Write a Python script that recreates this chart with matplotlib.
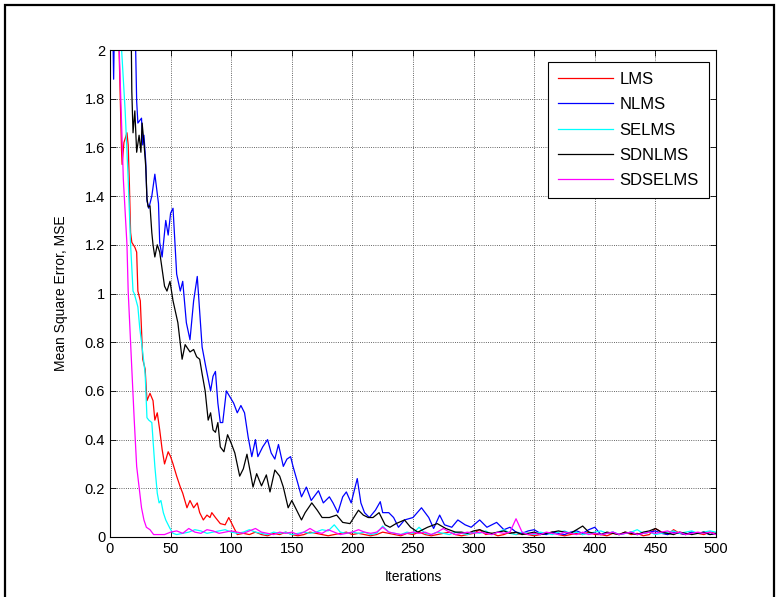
import matplotlib.pyplot as plt
import numpy as np
from matplotlib.patches import Rectangle

# LMS (red)
lms_it = [1, 7, 9.5, 10, 11.5, 14, 15, 16, 17, 18, 20.5, 22, 23, 25, 27, 29, 30.5, 33, 35.5, 37, 39,
          41, 43, 45, 48, 50, 52, 55, 58, 60, 63.5, 66, 69, 72, 74, 77, 80, 82.5, 84, 87, 91, 95, 98,
          102, 105]
lms_mse = [2.5, 2.1, 1.59, 1.53, 1.62, 1.66, 1.61, 1.45, 1.25, 1.21, 1.19, 1.17, 1.01, 0.97, 0.73,
           0.69, 0.56, 0.59, 0.56, 0.48, 0.51, 0.44, 0.36, 0.30, 0.35, 0.33, 0.30, 0.25, 0.205, 0.18,
           0.12, 0.15, 0.12, 0.14, 0.10, 0.07, 0.09, 0.08, 0.10, 0.08, 0.055, 0.05, 0.08, 0.04, 0.01]
lms_tail = [0.015, 0.01, 0.02, 0.01, 0.005, 0.015, 0.01, 0.02, 0.01, 0.005, 0.01, 0.02, 0.015, 0.01,
            0.005, 0.01, 0.015, 0.02, 0.01,
            0.015, 0.01, 0.005, 0.01, 0.02, 0.015, 0.01, 0.005, 0.015, 0.01, 0.02, 0.01, 0.005, 0.01,
            0.015, 0.02, 0.01, 0.005, 0.01, 0.015,
            0.03, 0.01, 0.015, 0.005, 0.01, 0.02, 0.01, 0.015, 0.01, 0.005, 0.01, 0.015, 0.02, 0.01,
            0.005, 0.01, 0.015, 0.01, 0.02, 0.01,
            0.01, 0.005, 0.015, 0.01, 0.02, 0.01, 0.015, 0.005, 0.01, 0.035, 0.02, 0.01, 0.03, 0.015,
            0.01, 0.02, 0.015, 0.01, 0.02, 0.015]

# NLMS (blue)
nlms_it = [1, 3, 5, 12, 20, 22, 23, 26, 27, 28, 29.5, 30.5, 32, 34.5, 37, 40, 41, 43, 46, 48, 50,
           52, 55, 58, 60, 63, 66, 69, 72, 76, 79, 83, 85, 87, 89, 91, 93, 96, 99, 102, 105, 108,
           111, 114, 117, 120, 122, 126, 130, 133, 136, 139, 143, 146, 149, 151, 155, 158, 162, 166,
           172, 176, 181, 184, 188, 192, 195, 199, 204, 207, 210, 214, 219, 223, 225, 230, 234, 238,
           243, 250, 257, 263, 267, 272, 276, 282, 287, 293, 298, 305, 311, 319, 325, 330]
nlms_mse = [2.5, 1.88, 2.6, 2.8, 2.3, 1.79, 1.70, 1.72, 1.61, 1.65, 1.54, 1.38, 1.35, 1.40, 1.49,
            1.37, 1.21, 1.15, 1.30, 1.24, 1.33, 1.35, 1.08, 1.01, 1.05, 0.88, 0.81, 0.97, 1.07, 0.78,
            0.70, 0.60, 0.66, 0.68, 0.55, 0.47, 0.47, 0.60, 0.575, 0.55, 0.51, 0.54, 0.51, 0.41, 0.33,
            0.40, 0.33, 0.37, 0.40, 0.345, 0.32, 0.38, 0.29, 0.32, 0.33, 0.29, 0.22, 0.165, 0.205,
            0.15, 0.19, 0.14, 0.165, 0.14, 0.10, 0.165, 0.185, 0.14, 0.24, 0.14, 0.10, 0.08, 0.11,
            0.145, 0.10, 0.10, 0.08, 0.04, 0.07, 0.08, 0.12, 0.08, 0.035, 0.09, 0.05, 0.04, 0.07,
            0.05, 0.04, 0.07, 0.04, 0.06, 0.03, 0.04]
nlms_tail = [0.02, 0.015, 0.025, 0.03, 0.015, 0.01, 0.02, 0.015, 0.01, 0.02, 0.025, 0.015, 0.03,
             0.04, 0.01, 0.015, 0.02, 0.01, 0.015, 0.02, 0.01, 0.015, 0.02, 0.025, 0.015, 0.01,
             0.02, 0.015, 0.01, 0.02, 0.015, 0.02, 0.01, 0.015]

# SELMS (cyan)
selms_it = [1, 9, 12.5, 15, 17, 19, 20, 23, 24.5, 26.5, 29, 30.5, 32, 34.5, 37, 39, 40.5, 42, 44,
            46, 49.5, 52]
selms_mse = [2.5, 2.05, 1.75, 1.47, 1.20, 1.01, 1.0, 0.945, 0.86, 0.78, 0.67, 0.49, 0.48, 0.47,
             0.29, 0.18, 0.14, 0.15, 0.10, 0.07, 0.035, 0.015]
selms_tail = [0.01, 0.015, 0.02, 0.03, 0.025, 0.015, 0.02, 0.025, 0.03, 0.02,
              0.015, 0.02, 0.03, 0.02, 0.015, 0.01, 0.02, 0.015, 0.02, 0.01,
              0.015, 0.02, 0.015, 0.02, 0.03, 0.025, 0.05, 0.02, 0.015, 0.02,
              0.015, 0.02, 0.01, 0.015, 0.045, 0.02, 0.015, 0.01, 0.02, 0.015,
              0.04, 0.015, 0.01, 0.02, 0.015, 0.01, 0.02, 0.015, 0.01, 0.02,
              0.015, 0.025, 0.01, 0.02, 0.03, 0.015, 0.01, 0.02, 0.015, 0.01,
              0.02, 0.015, 0.01, 0.02, 0.025, 0.015, 0.02, 0.01, 0.015, 0.02,
              0.025, 0.015, 0.02, 0.01, 0.015, 0.02, 0.03, 0.015, 0.02, 0.01,
              0.015, 0.02, 0.025, 0.015, 0.02, 0.025, 0.015, 0.02, 0.025, 0.02]

# SDNLMS (black)
sdnlms_it = [1, 17, 18, 19, 20.5, 22, 24, 25.5, 26.5, 28, 29.5, 30.5, 31.5, 33, 34.5, 35.5, 37, 39,
             41, 43, 45, 47, 49.5, 52, 56, 59.5, 62, 66, 69, 71.5, 74, 76, 78.5, 81, 83, 85, 87,
             89, 91, 94, 97, 100, 103, 107, 110, 113, 116, 118, 121, 125, 129, 132, 136, 140, 143,
             147, 150, 154, 158, 161, 166.5, 171, 175, 181, 187, 192, 198, 205, 209, 213, 217, 222,
             227, 231, 236, 243, 248, 254, 262, 270, 277, 285]
sdnlms_mse = [2.5, 2.3, 1.83, 1.66, 1.75, 1.58, 1.65, 1.58, 1.70, 1.62, 1.52, 1.39, 1.355, 1.36,
              1.25, 1.20, 1.15, 1.20, 1.17, 1.10, 1.03, 1.01, 1.05, 0.97, 0.88, 0.73, 0.79, 0.76,
              0.77, 0.74, 0.73, 0.67, 0.60, 0.48, 0.51, 0.44, 0.43, 0.47, 0.37, 0.35, 0.42, 0.385,
              0.345, 0.25, 0.28, 0.34, 0.26, 0.205, 0.26, 0.21, 0.255, 0.185, 0.275, 0.25, 0.205,
              0.12, 0.15, 0.11, 0.07, 0.10, 0.14, 0.11, 0.08, 0.08, 0.09, 0.06, 0.055, 0.11, 0.09,
              0.08, 0.08, 0.10, 0.05, 0.04, 0.055, 0.07, 0.04, 0.02, 0.04, 0.055, 0.035, 0.02]
sdnlms_tail = [0.02, 0.015, 0.025, 0.03, 0.02, 0.015, 0.02, 0.025, 0.015, 0.02, 0.01,
               0.015, 0.02, 0.01, 0.015, 0.02, 0.025, 0.02, 0.015, 0.03, 0.045, 0.02,
               0.015, 0.01, 0.02, 0.015, 0.01, 0.02, 0.015, 0.01, 0.02, 0.025, 0.035,
               0.02, 0.015, 0.01, 0.02, 0.015, 0.01, 0.015, 0.02, 0.01, 0.015]

# SDSELMS (magenta)
sdselms_it = [1, 7, 11, 14, 15, 18, 20, 22, 24, 26, 28, 30, 33, 36, 40, 45, 50]
sdselms_mse = [2.5, 2.1, 1.47, 1.20, 1.01, 0.69, 0.48, 0.29, 0.205, 0.12, 0.07, 0.04, 0.03, 0.01,
               0.01, 0.01, 0.02]
sdselms_tail = [0.025, 0.015, 0.035, 0.02, 0.015, 0.03, 0.025, 0.015, 0.02, 0.025,
                0.02, 0.015, 0.025, 0.035, 0.02, 0.015, 0.01, 0.02, 0.015, 0.02,
                0.01, 0.02, 0.035, 0.02, 0.015, 0.03, 0.02, 0.01, 0.015, 0.02,
                0.03, 0.02, 0.015, 0.02, 0.04, 0.02, 0.015, 0.01, 0.015, 0.02,
                0.015, 0.02, 0.01, 0.02, 0.035, 0.02, 0.01, 0.015, 0.02, 0.015,
                0.02, 0.015, 0.01, 0.02, 0.015, 0.02, 0.075, 0.02, 0.01, 0.015,
                0.01, 0.02, 0.015, 0.01, 0.02, 0.015, 0.01, 0.02, 0.01, 0.015,
                0.01, 0.015, 0.02, 0.01, 0.015, 0.02, 0.01, 0.015, 0.02, 0.015,
                0.02, 0.025, 0.015, 0.02, 0.01, 0.015, 0.02, 0.015, 0.02, 0.01]

labels = ["LMS", "NLMS", "SELMS", "SDNLMS", "SDSELMS"]
colors = ["#ff0000", "#0000ff", "#00ffff", "#000000", "#ff00ff"]

# tails are sampled every 5 iterations from the given start
series = [
    (lms_it, lms_mse, 110, lms_tail),
    (nlms_it, nlms_mse, 335, nlms_tail),
    (selms_it, selms_mse, 55, selms_tail),
    (sdnlms_it, sdnlms_mse, 290, sdnlms_tail),
    (sdselms_it, sdselms_mse, 55, sdselms_tail),
]

plt.rcParams["font.family"] = ["Liberation Sans", "DejaVu Sans"]
plt.rcParams["font.size"] = 10

fig = plt.figure(figsize=(7.79, 5.97), dpi=100)
ax = fig.add_axes([110 / 779, 1 - 537 / 597, 606 / 779, 487 / 597])

for (it, mse, t0, tail), lab, c in zip(series, labels, colors):
    x = np.concatenate([it, t0 + 5 * np.arange(len(tail))])
    y = np.concatenate([mse, tail])
    ax.plot(x, y, color=c, linewidth=0.9, label=lab)

ax.set_xlim(0, 500)
ax.set_ylim(0, 2)
ax.set_xticks(np.arange(0, 501, 50))
ax.set_yticks(np.arange(0, 2.01, 0.2))
ax.set_yticklabels(["%g" % round(v, 1) for v in np.arange(0, 2.01, 0.2)])
ax.tick_params(direction="in", top=True, right=True, length=4, width=0.6, labelsize=10.5)
ax.grid(True, color="#333333", linestyle=":", linewidth=0.6)
for s in ax.spines.values():
    s.set_linewidth(0.8)

ax.set_xlabel("Iterations", labelpad=10)
ax.set_ylabel("Mean Square Error, MSE", labelpad=12)

leg = ax.legend(loc="upper right", bbox_to_anchor=((709 - 110) / 606, (537 - 62) / 487),
                borderaxespad=0, handlelength=3.3, labelspacing=0.62, fancybox=False,
                framealpha=1, edgecolor="black", fontsize=12, borderpad=0.6, handletextpad=0.42)
leg.get_frame().set_linewidth(0.8)

# outer frame around the figure
fig.patches.append(Rectangle((5 / 779, -0.05), 769 / 779, 1.05 - 5 / 597, transform=fig.transFigure,
                             fill=False, edgecolor="black", linewidth=1.6))

fig.savefig("out.png", dpi=100)
